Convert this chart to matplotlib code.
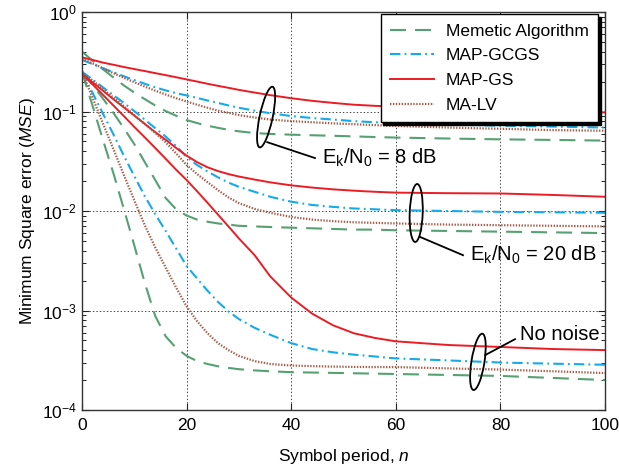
import matplotlib
matplotlib.use("Agg")
import matplotlib.pyplot as plt
from matplotlib.patches import Ellipse
from matplotlib.transforms import IdentityTransform
from matplotlib.ticker import LogLocator, NullFormatter, FixedLocator

plt.rcParams['font.family'] = ['Liberation Sans', 'DejaVu Sans']
plt.rcParams['mathtext.fontset'] = 'custom'
plt.rcParams['mathtext.rm'] = 'Liberation Sans'
plt.rcParams['mathtext.it'] = 'Liberation Sans:italic'
plt.rcParams['mathtext.bf'] = 'Liberation Sans:bold'
plt.rcParams['lines.scale_dashes'] = False

# ---------------- data ----------------
n = [0, 2, 4, 6, 8, 10, 12, 14, 16, 18, 20, 22, 24, 26, 28, 30, 33, 36, 40, 44, 48, 52, 56, 60, 70, 80, 90, 100]

# Ek/N0 = 8 dB
ma_8 = [0.40, 0.325, 0.266, 0.22, 0.183, 0.155, 0.133, 0.115, 0.101, 0.0906, 0.082, 0.0765, 0.072, 0.0685,
        0.0655, 0.0632, 0.0608, 0.0595, 0.0585, 0.0577, 0.057, 0.0562, 0.0554, 0.0547, 0.0535, 0.0525, 0.0518, 0.051]
gcgs_8 = [0.33, 0.30, 0.272, 0.248, 0.226, 0.207, 0.19, 0.175, 0.163, 0.153, 0.145, 0.137, 0.129, 0.122,
          0.115, 0.109, 0.102, 0.096, 0.090, 0.086, 0.083, 0.080, 0.078, 0.0765, 0.074, 0.072, 0.0705, 0.069]
gs_8 = [0.35, 0.33, 0.31, 0.295, 0.28, 0.267, 0.255, 0.243, 0.232, 0.221, 0.21, 0.20, 0.19, 0.181,
        0.173, 0.165, 0.155, 0.146, 0.136, 0.128, 0.122, 0.117, 0.114, 0.112, 0.107, 0.103, 0.100, 0.098]
lv_8 = [0.34, 0.305, 0.272, 0.243, 0.218, 0.197, 0.178, 0.162, 0.148, 0.136, 0.126, 0.117, 0.109, 0.102,
        0.097, 0.092, 0.087, 0.083, 0.080, 0.078, 0.076, 0.0745, 0.073, 0.0715, 0.069, 0.067, 0.065, 0.064]

# Ek/N0 = 20 dB
ma_20 = [0.25, 0.185, 0.135, 0.097, 0.068, 0.047, 0.031, 0.0205, 0.0135, 0.0104, 0.0090, 0.0082, 0.0078,
         0.0075, 0.0073, 0.0071, 0.0070, 0.0069, 0.0068, 0.0067, 0.0066, 0.0065, 0.0065, 0.0064, 0.0063,
         0.0062, 0.0061, 0.0060]
gcgs_20 = [0.25, 0.21, 0.175, 0.146, 0.122, 0.101, 0.083, 0.068, 0.056, 0.045, 0.035, 0.029, 0.025, 0.0218,
           0.0193, 0.0175, 0.0156, 0.0139, 0.0124, 0.0115, 0.0110, 0.0106, 0.0104, 0.0102, 0.0100, 0.0098,
           0.0097, 0.0096]
gs_20 = [0.24, 0.197, 0.162, 0.133, 0.11, 0.091, 0.075, 0.062, 0.052, 0.043, 0.036, 0.031, 0.0275, 0.0252,
         0.0235, 0.0222, 0.0207, 0.0194, 0.0181, 0.0172, 0.0165, 0.0160, 0.0156, 0.0153, 0.0151, 0.0150,
         0.0145, 0.0139]
lv_20 = [0.25, 0.205, 0.168, 0.138, 0.113, 0.092, 0.075, 0.061, 0.049, 0.038, 0.029, 0.0235, 0.0195, 0.0162,
         0.0137, 0.0120, 0.0105, 0.0096, 0.0087, 0.0082, 0.0079, 0.0077, 0.0076, 0.0075, 0.0073, 0.0072,
         0.0071, 0.0070]

# No noise
ma_0 = [0.25, 0.115, 0.052, 0.024, 0.0105, 0.0045, 0.0019, 0.00088, 0.00055, 0.00042, 0.00035, 0.00031,
        0.00029, 0.000275, 0.000265, 0.000257, 0.00025, 0.000245, 0.00024, 0.000238, 0.000236, 0.000234,
        0.000232, 0.00023, 0.000225, 0.00022, 0.00021, 0.0002]
gcgs_0 = [0.25, 0.155, 0.095, 0.059, 0.036, 0.0224, 0.0141, 0.0093, 0.0063, 0.0042, 0.0028, 0.0021, 0.00158,
          0.00122, 0.00098, 0.00082, 0.00067, 0.00057, 0.00047, 0.00041, 0.00038, 0.00036, 0.000345, 0.00033,
          0.000315, 0.0003, 0.000292, 0.000285]
gs_0 = [0.24, 0.188, 0.147, 0.115, 0.090, 0.070, 0.055, 0.043, 0.0335, 0.026, 0.0205, 0.0158, 0.0121, 0.0092,
        0.0070, 0.0053, 0.0036, 0.0022, 0.00135, 0.00093, 0.00071, 0.00059, 0.00053, 0.00049, 0.00045,
        0.00043, 0.00041, 0.0004]
lv_0 = [0.25, 0.138, 0.076, 0.042, 0.023, 0.0128, 0.0072, 0.0043, 0.0027, 0.0017, 0.0011, 0.00078, 0.00059,
        0.00047, 0.0004, 0.00035, 0.00031, 0.00029, 0.00028, 0.000276, 0.000273, 0.000271, 0.00027, 0.00027,
        0.000262, 0.000255, 0.000245, 0.000235]

labels = ['Memetic Algorithm', 'MAP-GCGS', 'MAP-GS', 'MA-LV']
xticks = [0, 20, 40, 60, 80, 100]
annot = [r'E$_\mathrm{k}$/N$_0$ = 8 dB', r'E$_\mathrm{k}$/N$_0$ = 20 dB', 'No noise']

# ---------------- styles ----------------
c_ma = '#55a173'
c_gcgs = '#14aaec'
c_gs = '#ec1c24'
c_lv = '#a85a44'
st_ma = dict(color=c_ma, lw=1.5, dashes=(11.5, 6.5))
st_gcgs = dict(color=c_gcgs, lw=1.5, dashes=(7.5, 3.0, 1.3, 3.0))
st_gs = dict(color=c_gs, lw=1.4, ls='-')
st_lv = dict(color=c_lv, lw=1.6, dashes=(1.0, 1.1))

fig = plt.figure(figsize=(6.19, 4.72), dpi=100)
ax = fig.add_axes([82 / 619, 1 - 410 / 472, (605 - 82) / 619, (410 - 12) / 472])

groups = [(ma_8, gcgs_8, gs_8, lv_8), (ma_20, gcgs_20, gs_20, lv_20), (ma_0, gcgs_0, gs_0, lv_0)]
handles = None
for a, b, c, d in groups:
    h1, = ax.plot(n, a, **st_ma)
    h2, = ax.plot(n, b, **st_gcgs)
    h3, = ax.plot(n, c, **st_gs)
    h4, = ax.plot(n, d, **st_lv)
    if handles is None:
        handles = [h1, h2, h3, h4]

ax.set_yscale('log')
ax.set_xlim(0, 100)
ax.set_ylim(1e-4, 1)
ax.xaxis.set_major_locator(FixedLocator(xticks))
ax.yaxis.set_major_locator(LogLocator(base=10, numticks=10))
ax.yaxis.set_minor_locator(LogLocator(base=10, subs=range(2, 10), numticks=20))
ax.yaxis.set_minor_formatter(NullFormatter())

ax.grid(True, which='major', color='#444444', lw=0.7, ls=(0, (1, 1.5)))
ax.tick_params(which='both', direction='in', top=True, right=True, labelsize=12.5, colors='#222222',
               labelcolor='black')
ax.tick_params(which='major', length=5, width=0.8)
ax.tick_params(which='minor', length=3, width=0.7)
ax.tick_params(axis='x', pad=6)
for s in ax.spines.values():
    s.set_color('#333333')
    s.set_linewidth(1.0)

ax.set_xlabel(r'Symbol period, $n$', fontsize=12.5, labelpad=10)
ax.set_ylabel(r'Minimum Square error ($MSE$)', fontsize=12.5, labelpad=4)

leg = ax.legend(handles, labels, loc='upper right', bbox_to_anchor=(0.987, 0.995), fontsize=12.5,
                frameon=True, fancybox=False, framealpha=1, edgecolor='black', handlelength=2.5,
                labelspacing=0.55, borderpad=0.55, handletextpad=0.7, borderaxespad=0.0,
                shadow={'color': 'black', 'alpha': 1.0})
leg.get_frame().set_linewidth(1.0)

# ---------------- annotations ----------------
ell_spec = [(0.352, 0.736, -12), (0.639, 0.495, -2), (0.757, 0.121, -9)]
line_spec = [((0.354, 0.4455), (0.673, 0.633)), ((0.646, 0.7285), (0.435, 0.389)), ((0.771, 0.828), (0.138, 0.178))]
text_pos = [(0.459, 0.633), (0.742, 0.389), (0.837, 0.190)]
ell_size = [(13, 62), (13, 58), (13, 57)]

fig.canvas.draw()
for (fx, fy, ang), (w, h), (lx, ly), (tx, ty), txt in zip(ell_spec, ell_size, line_spec, text_pos, annot):
    cx, cy = ax.transAxes.transform((fx, fy))
    e = Ellipse((cx, cy), w, h, angle=ang, transform=IdentityTransform(), fill=False, ec='black', lw=1.3,
                clip_on=False, zorder=5)
    fig.add_artist(e)
    ax.plot(lx, ly, color='black', lw=1.3, transform=ax.transAxes, clip_on=False, zorder=5)
    ax.text(tx, ty, txt, transform=ax.transAxes, fontsize=14.5, ha='left', va='center', zorder=6)

fig.savefig('out.png', dpi=100)
